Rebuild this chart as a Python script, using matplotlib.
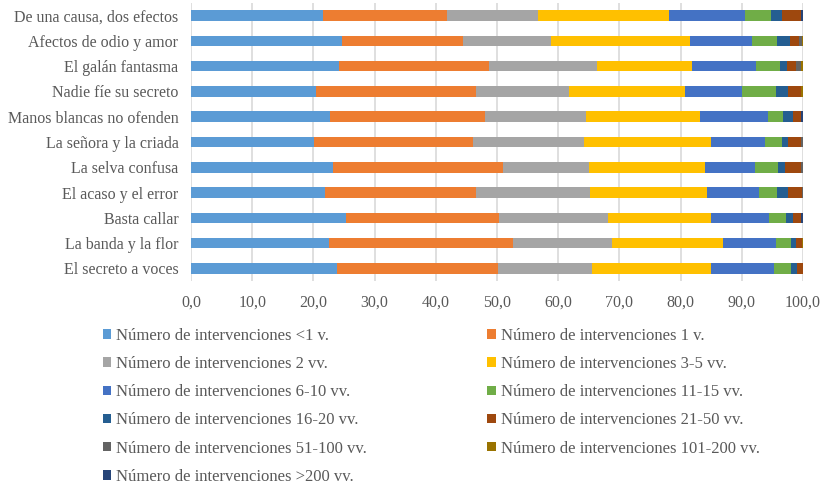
import numpy as np
import matplotlib
matplotlib.use("Agg")
import matplotlib.pyplot as plt

plt.rcParams['font.family'] = ['Liberation Serif', 'DejaVu Serif']

# obras, de arriba abajo
obras = ["De una causa, dos efectos", "Afectos de odio y amor", "El galán fantasma",
         "Nadie fíe su secreto", "Manos blancas no ofenden", "La señora y la criada",
         "La selva confusa", "El acaso y el error", "Basta callar",
         "La banda y la flor", "El secreto a voces"]

series = ["Número de intervenciones <1 v.", "Número de intervenciones 1 v.",
          "Número de intervenciones 2 vv.", "Número de intervenciones 3-5 vv.",
          "Número de intervenciones 6-10 vv.", "Número de intervenciones 11-15 vv.",
          "Número de intervenciones 16-20 vv.", "Número de intervenciones 21-50 vv.",
          "Número de intervenciones 51-100 vv.", "Número de intervenciones 101-200 vv.",
          "Número de intervenciones >200 vv."]

# porcentajes por serie (una lista por serie, en el orden de "obras")
menos_1 = [21.6, 24.6, 24.2, 20.4, 22.7, 20.1, 23.2, 21.9, 25.4, 22.5, 23.9]
v1      = [20.3, 19.8, 24.5, 26.1, 25.3, 25.9, 27.8, 24.6, 25.0, 30.1, 26.3]
vv2     = [14.8, 14.5, 17.6, 15.3, 16.5, 18.2, 14.0, 18.7, 17.8, 16.2, 15.3]
vv3_5   = [21.4, 22.7, 15.6, 18.9, 18.6, 20.7, 19.0, 19.1, 16.8, 18.2, 19.4]
vv6_10  = [12.4, 10.1, 10.4, 9.3, 11.1, 8.9, 8.2, 8.5, 9.4, 8.6, 10.3]
vv11_15 = [4.3, 4.1, 3.9, 5.6, 2.5, 2.7, 3.7, 3.0, 2.8, 2.4, 2.8]
vv16_20 = [1.8, 2.0, 1.2, 2.0, 1.7, 1.1, 1.2, 1.7, 1.2, 0.9, 1.0]
vv21_50 = [3.0, 1.6, 1.5, 2.1, 1.3, 2.0, 2.5, 2.4, 1.3, 0.9, 1.0]
vv51_100 = [0.1, 0.4, 0.8, 0.0, 0.0, 0.4, 0.4, 0.1, 0.0, 0.0, 0.0]
vv101_200 = [0.0, 0.2, 0.3, 0.3, 0.0, 0.0, 0.0, 0.0, 0.0, 0.2, 0.0]
mas_200 = [0.3, 0.0, 0.0, 0.0, 0.3, 0.0, 0.0, 0.0, 0.3, 0.0, 0.0]

valores = [menos_1, v1, vv2, vv3_5, vv6_10, vv11_15, vv16_20, vv21_50,
           vv51_100, vv101_200, mas_200]

colores = ["#5B9BD5", "#ED7D31", "#A5A5A5", "#FFC000", "#4472C4", "#70AD47",
           "#255E91", "#9E480E", "#636363", "#997300", "#264478"]

xticks = [0, 10, 20, 30, 40, 50, 60, 70, 80, 90, 100]
xtick_labels = ["0,0", "10,0", "20,0", "30,0", "40,0", "50,0", "60,0", "70,0",
                "80,0", "90,0", "100,0"]

texto = "#595959"

fig = plt.figure(figsize=(8.25, 4.88), dpi=100)
ax = fig.add_axes([191 / 825, 1 - 281 / 488, 612 / 825, 278 / 488])

y = np.arange(len(obras))
izq = np.zeros(len(obras))
barras = []
for nombre, vals, c in zip(series, valores, colores):
    b = ax.barh(y, vals, left=izq, height=0.42, color=c, label=nombre, zorder=3)
    barras.append(b)
    izq += np.array(vals)

ax.set_xlim(0, 100)
ax.set_ylim(len(obras) - 0.5, -0.5)
ax.set_yticks(y)
ax.set_yticklabels(obras, fontsize=11.5, color=texto)
ax.set_xticks(xticks)
ax.set_xticklabels(xtick_labels, fontsize=11.5, color=texto)
ax.tick_params(axis='both', length=0)
ax.tick_params(axis='y', pad=9)
ax.tick_params(axis='x', pad=10)
ax.grid(axis='x', color='#d9d9d9', linewidth=1.2, zorder=0)
for s in ax.spines.values():
    s.set_visible(False)

# leyenda por filas (Excel): reordenar para columnas de matplotlib
orden = [0, 2, 4, 6, 8, 10, 1, 3, 5, 7, 9]
leg = fig.legend([barras[i] for i in orden], [series[i] for i in orden],
                 loc='upper left', bbox_to_anchor=(103 / 825, 1 - 328 / 488),
                 ncol=2, frameon=False, fontsize=12,
                 handlelength=0.5, handleheight=0.5, handletextpad=0.3,
                 labelspacing=0.73, columnspacing=7.2, borderaxespad=0,
                 borderpad=0)
for t in leg.get_texts():
    t.set_color(texto)

fig.savefig("out.png", dpi=100)
